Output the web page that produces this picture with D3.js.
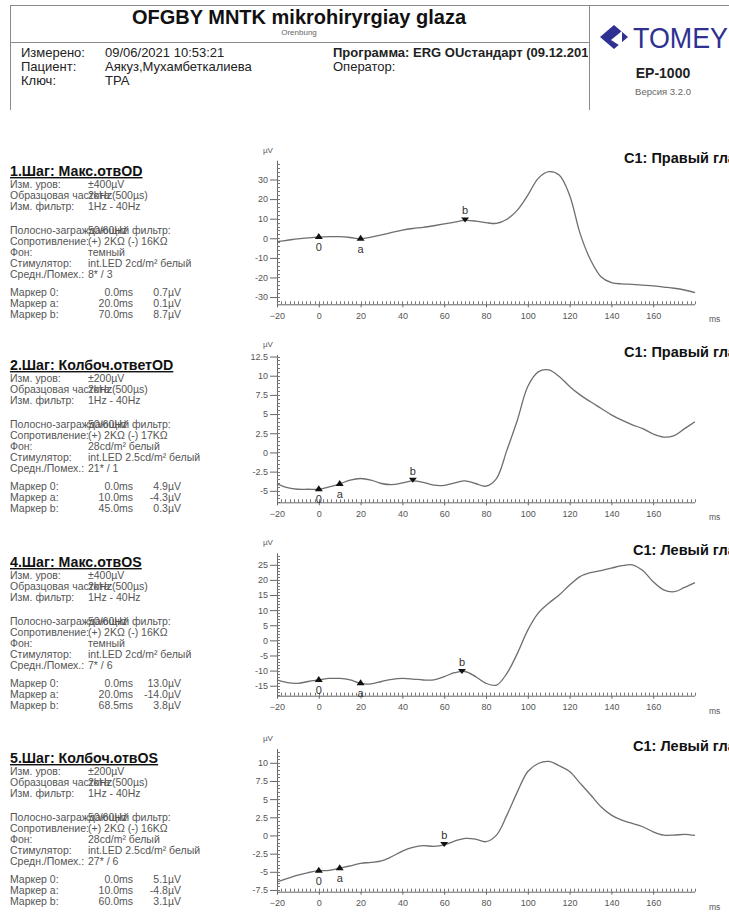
<!DOCTYPE html>
<html>
<head>
<meta charset="utf-8">
<script src="https://cdn.jsdelivr.net/npm/d3@7"></script>
<style>
  body { margin: 0; background: #fff; overflow: hidden; }
  svg { display: block; font-family: "Liberation Sans", Arial, sans-serif; }
</style>
</head>
<body>
<div id="chart"></div>
<script>
// ---- data ----
var ms = [-20, -15, -10, -5, 0, 5, 10, 15, 20, 25, 30, 35, 40, 45, 50, 55, 60, 65, 70, 75, 80, 85, 90, 95,
          100, 105, 110, 115, 120, 125, 130, 135, 140, 145, 150, 155, 160, 165, 170, 175, 180];

var step1Values = [-1.7, -1.0, -0.3, 0.2, 0.6, 0.8, 0.8, 0.4, -0.2, 0.6, 1.7, 3.0, 4.2, 5.0, 5.6, 6.4, 7.3, 8.3, 9.1, 8.8, 8.0, 7.6, 9.7, 14.4,
                   22.0, 30.6, 34.0, 32.3, 22.0, 2.5, -11.0, -19.6, -22.6, -23.3, -23.5, -23.9, -24.3, -24.9, -25.5, -26.4, -27.7];
var step2Values = [-4.1, -4.6, -4.8, -4.8, -4.8, -4.5, -4.1, -3.6, -3.4, -3.6, -4.05, -4.2, -3.97, -3.7, -3.9, -4.27, -4.3, -3.97, -3.7, -4.05, -4.4, -3.4, 0.3, 4.2,
                   8.6, 10.5, 10.75, 9.9, 8.6, 7.5, 6.6, 5.75, 4.9, 4.2, 3.6, 3.1, 2.4, 2.0, 2.2, 3.1, 4.0];
var step4Values = [-13.1, -14.0, -14.2, -13.6, -13.1, -12.6, -12.6, -13.1, -14.2, -14.4, -13.6, -12.9, -12.6, -12.8, -13.1, -13.1, -12.0, -10.7, -10.3, -12.0, -14.2, -14.8, -10.9, -4.3,
                   3.4, 9.0, 12.3, 15.0, 18.3, 21.1, 22.4, 23.1, 23.9, 24.7, 25.0, 23.1, 19.4, 16.7, 16.1, 17.5, 19.1];
var step5Values = [-6.4, -5.9, -5.45, -5.1, -4.85, -4.8, -4.5, -4.2, -3.85, -3.7, -3.5, -2.9, -2.15, -1.65, -1.4, -1.5, -1.3, -0.77, -0.4, -0.5, -0.86, 0.05, 2.8, 6.0,
                   8.8, 9.9, 10.2, 9.6, 8.8, 7.2, 5.6, 3.95, 2.8, 2.1, 1.66, 1.2, 0.5, 0.05, 0.05, 0.15, 0.0];

var stepTitles = ["1.Шаг: Макс.отвOD", "2.Шаг: Колбоч.ответOD", "4.Шаг: Макс.отвOS", "5.Шаг: Колбоч.отвOS"];
var eyeTitles = ["C1: Правый глаз", "C1: Правый глаз", "C1: Левый глаз", "C1: Левый глаз"];

var yDomains = [[-33.7, 39.6], [-6.5, 12.7], [-18.3, 28.8], [-7.74, 11.9]];
var yTickValues = [[-30, -20, -10, 0, 10, 20, 30],
                   [-5, -2.5, 0, 2.5, 5, 7.5, 10, 12.5],
                   [-15, -10, -5, 0, 5, 10, 15, 20, 25],
                   [-7.5, -5, -2.5, 0, 2.5, 5, 7.5, 10]];
var yMinorSteps = [2, 0.5, 1, 0.5];
var xTickValues = [-20, 0, 20, 40, 60, 80, 100, 120, 140, 160];

var markerNames = ["0", "a", "b"];
var markerMs = [[0, 20, 70], [0, 10, 45], [0, 20, 68.5], [0, 10, 60]];

var paramLabels = ["Изм. уров:", "Образцовая частота:", "Изм. фильтр:", "Полосно-заграждающий фильтр:",
                   "Сопротивление:", "Фон:", "Стимулятор:", "Средн./Помех.:"];
var paramValues = [
  ["±400µV", "2kHz(500µs)", "1Hz - 40Hz", "50/60Hz", "(+) 2KΩ (-) 16KΩ", "темный", "int.LED 2cd/m² белый", "8* / 3"],
  ["±200µV", "2kHz(500µs)", "1Hz - 40Hz", "50/60Hz", "(+) 2KΩ (-) 17KΩ", "28cd/m² белый", "int.LED 2.5cd/m² белый", "21* / 1"],
  ["±400µV", "2kHz(500µs)", "1Hz - 40Hz", "50/60Hz", "(+) 2KΩ (-) 16KΩ", "темный", "int.LED 2cd/m² белый", "7* / 6"],
  ["±200µV", "2kHz(500µs)", "1Hz - 40Hz", "50/60Hz", "(+) 2KΩ (-) 16KΩ", "28cd/m² белый", "int.LED 2.5cd/m² белый", "27* / 6"]
];
var markerLabels = ["Маркер 0:", "Маркер a:", "Маркер b:"];
var markerTimes = [["0.0ms", "20.0ms", "70.0ms"], ["0.0ms", "10.0ms", "45.0ms"], ["0.0ms", "20.0ms", "68.5ms"], ["0.0ms", "10.0ms", "60.0ms"]];
var markerAmps = [["0.7µV", "0.1µV", "8.7µV"], ["4.9µV", "-4.3µV", "0.3µV"], ["13.0µV", "-14.0µV", "3.8µV"], ["5.1µV", "-4.8µV", "3.1µV"]];

var headerLabels = ["Измерено:", "Пациент:", "Ключ:"];
var headerValues = ["09/06/2021 10:53:21", "Аякуз,Мухамбеткалиева", "TPA"];

var series = [step1Values, step2Values, step4Values, step5Values];

function init() {
    var w = 729, h = 912;
    var svg = d3.select("#chart").append("svg")
        .attr("width", w)
        .attr("height", h);

    // ---- header box ----
    var hdr = svg.append("g").attr("stroke", "#8a8a8a").attr("stroke-width", 1);
    hdr.append("line").attr("x1", 10).attr("x2", 729).attr("y1", 5.5).attr("y2", 5.5);
    hdr.append("line").attr("x1", 10.5).attr("x2", 10.5).attr("y1", 5).attr("y2", 110);
    hdr.append("line").attr("x1", 10).attr("x2", 589).attr("y1", 42.5).attr("y2", 42.5);
    hdr.append("line").attr("x1", 589.5).attr("x2", 589.5).attr("y1", 5).attr("y2", 110);

    svg.append("text").attr("x", 299).attr("y", 24).attr("text-anchor", "middle")
        .attr("font-size", 20).attr("font-weight", "bold").attr("fill", "#111")
        .text("OFGBY MNTK mikrohiryrgiay glaza");
    svg.append("text").attr("x", 299).attr("y", 35).attr("text-anchor", "middle")
        .attr("font-size", 8).attr("fill", "#666").text("Orenbung");

    headerLabels.forEach(function(t, i) {
        svg.append("text").attr("x", 21).attr("y", 57 + i * 13.8)
            .attr("font-size", 13).attr("fill", "#222").text(t);
        svg.append("text").attr("x", 105).attr("y", 57 + i * 13.8)
            .attr("font-size", 13).attr("fill", "#222").text(headerValues[i]);
    });

    svg.append("clipPath").attr("id", "hdrclip")
        .append("rect").attr("x", 300).attr("y", 40).attr("width", 288).attr("height", 60);
    svg.append("text").attr("x", 333).attr("y", 57).attr("clip-path", "url(#hdrclip)")
        .attr("font-size", 13).attr("font-weight", "bold").attr("fill", "#222")
        .text("Программа: ERG OUстандарт (09.12.2019)");
    svg.append("text").attr("x", 333).attr("y", 70.8)
        .attr("font-size", 13).attr("fill", "#222").text("Оператор:");

    // TOMEY logo
    var logo = svg.append("g").attr("transform", "translate(614,37)");
    logo.append("path").attr("d", "M-14,0 L0,-12 L14,0 L0,12 Z").attr("fill", "#2e3192");
    logo.append("path").attr("d", "M-3,3 L8,-6 L8,10 Z").attr("fill", "#fff");
    svg.append("text").attr("x", 633).attr("y", 48)
        .attr("font-size", 29).attr("fill", "#2e3192")
        .attr("textLength", 95).attr("lengthAdjust", "spacingAndGlyphs")
        .text("TOMEY");
    svg.append("text").attr("x", 663).attr("y", 78).attr("text-anchor", "middle")
        .attr("font-size", 14).attr("font-weight", "bold").attr("fill", "#222").text("EP-1000");
    svg.append("text").attr("x", 663).attr("y", 95).attr("text-anchor", "middle")
        .attr("font-size", 9.5).attr("fill", "#666").text("Версия 3.2.0");

    // ---- the four recordings ----
    var chartTops = [160.7, 355, 553.3, 749];
    var chartBottoms = [304.3, 502.3, 695.7, 891.7];
    var panelTitleY = [176, 370, 567, 763];

    var xScale = d3.scaleLinear().domain([-20, 180]).range([277, 695]);

    series.forEach(function(values, k) {
        var top = chartTops[k], bottom = chartBottoms[k];
        var yScale = d3.scaleLinear().domain(yDomains[k]).range([bottom, top]);
        var g = svg.append("g");

        // left side text block
        var ty = panelTitleY[k];
        g.append("text").attr("x", 10).attr("y", ty)
            .attr("font-size", 14.2).attr("font-weight", "bold").attr("fill", "#111")
            .attr("text-decoration", "underline").text(stepTitles[k]);
        var rowY = [12, 23, 34, 58, 69, 80, 91, 102];
        paramLabels.forEach(function(lab, i) {
            g.append("text").attr("x", 10).attr("y", ty + rowY[i])
                .attr("font-size", 10.5).attr("fill", "#555").text(lab);
            g.append("text").attr("x", 88).attr("y", ty + rowY[i])
                .attr("font-size", 10.5).attr("fill", "#555").text(paramValues[k][i]);
        });
        markerLabels.forEach(function(lab, i) {
            var yy = ty + 120 + i * 11;
            g.append("text").attr("x", 10).attr("y", yy)
                .attr("font-size", 10.5).attr("fill", "#555").text(lab);
            g.append("text").attr("x", 133).attr("y", yy).attr("text-anchor", "end")
                .attr("font-size", 10.5).attr("fill", "#555").text(markerTimes[k][i]);
            g.append("text").attr("x", 181).attr("y", yy).attr("text-anchor", "end")
                .attr("font-size", 10.5).attr("fill", "#555").text(markerAmps[k][i]);
        });

        // y axis
        var yAxis = d3.axisLeft(yScale).tickValues(yTickValues[k]).tickSize(7).tickPadding(2)
            .tickFormat(function(d) { return String(d); });
        var ya = g.append("g").attr("transform", "translate(277,0)").call(yAxis);
        ya.select(".domain").attr("stroke", "#666").attr("d", "M0.5," + top + "V" + bottom);
        ya.selectAll(".tick line").attr("stroke", "#666");
        ya.selectAll(".tick text").attr("fill", "#555").attr("font-size", 9)
            .attr("font-family", "Liberation Sans, Arial, sans-serif");

        var yMinor = d3.range(Math.ceil(yDomains[k][0] / yMinorSteps[k]) * yMinorSteps[k], yDomains[k][1], yMinorSteps[k]);
        g.selectAll(".yminor").data(yMinor).enter().append("line")
            .attr("x1", 277).attr("x2", 280)
            .attr("y1", function(d) { return Math.round(yScale(d)) + 0.5; })
            .attr("y2", function(d) { return Math.round(yScale(d)) + 0.5; })
            .attr("stroke", "#777");

        // x axis
        var xAxis = d3.axisBottom(xScale).tickValues(xTickValues).tickSize(3).tickPadding(5)
            .tickFormat(d3.format("d"));
        var xa = g.append("g").attr("transform", "translate(0," + bottom + ")").call(xAxis);
        xa.select(".domain").attr("stroke", "#666").attr("d", "M277,0.5H695");
        xa.selectAll(".tick line").attr("stroke", "#666");
        xa.selectAll(".tick text").attr("fill", "#555").attr("font-size", 9)
            .attr("font-family", "Liberation Sans, Arial, sans-serif");
        g.selectAll(".xminor").data(d3.range(-20, 181, 2)).enter().append("line")
            .attr("x1", function(d) { return Math.round(xScale(d)) + 0.5; })
            .attr("x2", function(d) { return Math.round(xScale(d)) + 0.5; })
            .attr("y1", bottom - 3).attr("y2", bottom)
            .attr("stroke", "#777");

        g.append("text").attr("x", 263).attr("y", top - 8)
            .attr("font-size", 8).attr("fill", "#555").text("µV");
        g.append("text").attr("x", 709).attr("y", bottom + 18)
            .attr("font-size", 8.5).attr("fill", "#555").text("ms");

        g.append("text").attr("x", k < 2 ? 624 : 633).attr("y", top + 2)
            .attr("font-size", 14.5).attr("font-weight", "bold").attr("fill", "#111")
            .text(eyeTitles[k]);

        // trace
        var pts = ms.map(function(t, i) { return [t, values[i]]; });
        var line = d3.line()
            .x(function(d) { return xScale(d[0]); })
            .y(function(d) { return yScale(d[1]); })
            .curve(d3.curveCatmullRom.alpha(0.5));
        g.append("path").datum(pts).attr("d", line)
            .attr("fill", "none").attr("stroke", "#6e6e6e").attr("stroke-width", 1.3);

        // markers sit on the trace
        var valueAt = d3.scaleLinear().domain(ms).range(values);
        markerMs[k].forEach(function(t, i) {
            var px = xScale(t), py = yScale(valueAt(t));
            if (i < 2) {
                g.append("path").attr("d", "M" + (px - 4) + "," + (py + 2) + "L" + (px + 4) + "," + (py + 2) + "L" + px + "," + (py - 4) + "Z")
                    .attr("fill", "#111");
                g.append("text").attr("x", px).attr("y", py + 14).attr("text-anchor", "middle")
                    .attr("font-size", 11).attr("fill", "#333").text(markerNames[i]);
            } else {
                g.append("path").attr("d", "M" + (px - 4) + "," + (py - 3) + "L" + (px + 4) + "," + (py - 3) + "L" + px + "," + (py + 2) + "Z")
                    .attr("fill", "#111");
                g.append("text").attr("x", px).attr("y", py - 6).attr("text-anchor", "middle")
                    .attr("font-size", 11).attr("fill", "#333").text(markerNames[i]);
            }
        });
    });
}
window.onload = init;
</script>
</body>
</html>
